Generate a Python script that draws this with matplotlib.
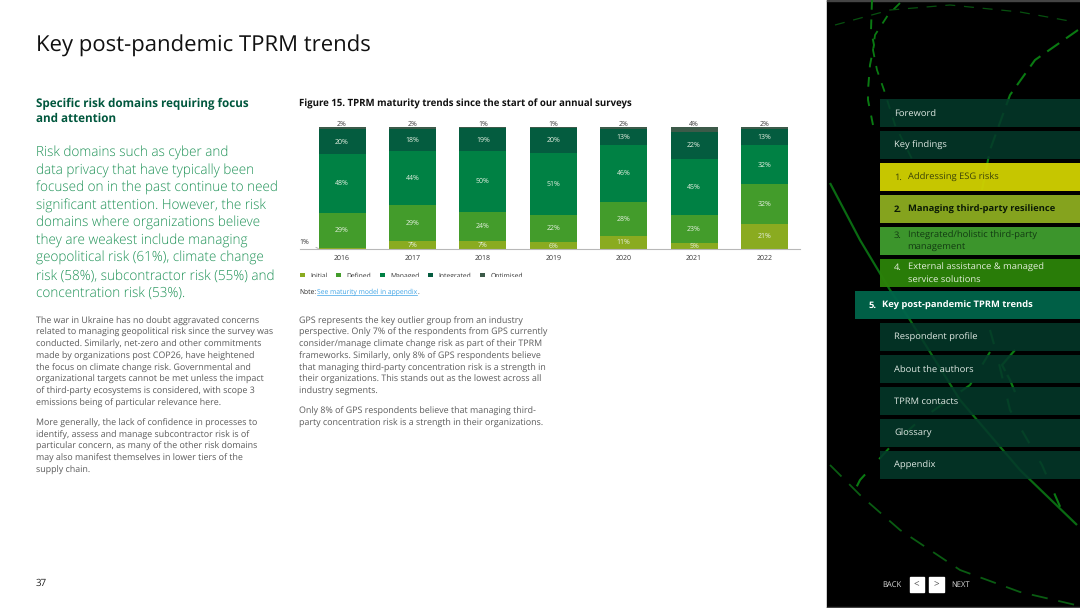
import matplotlib
matplotlib.use("Agg")
import matplotlib.pyplot as plt
from matplotlib.patches import Rectangle

plt.rcParams['font.family'] = ['Open Sans', 'DejaVu Sans']
plt.rcParams['text.hinting'] = 'no_hinting'
plt.rcParams['text.hinting_factor'] = 8

years = ['2016', '2017', '2018', '2019', '2020', '2021', '2022']
series_names = ['Initial', 'Defined', 'Managed', 'Integrated', 'Optimised']
initial = [1, 7, 7, 6, 11, 5, 21]
defined = [29, 29, 24, 22, 28, 23, 32]
managed = [48, 44, 50, 51, 46, 45, 32]
integrated = [20, 18, 19, 20, 13, 22, 13]
optimised = [2, 2, 1, 1, 2, 4, 2]
series_colors = ['#8aab20', '#439c2b', '#008144', '#045c3f', '#3c5a49']

nav_items = [
    ('', 'Foreword', '', '#04392a', '#dfe9e3', 'normal'),
    ('', 'Key findings', '', '#04392a', '#dfe9e3', 'normal'),
    ('1.', 'Addressing ESG risks', '', '#cfcf00', '#3a4208', 'normal'),
    ('2.', 'Managing third-party resilience', '', '#8bab20', '#0b1a05', 'bold'),
    ('3.', 'Integrated/holistic third-party', 'management', '#3f9c2e', '#123a12', 'normal'),
    ('4.', 'External assistance & managed', 'service solutions', '#2b8209', '#e4efdc', 'normal'),
    ('5.', 'Key post-pandemic TPRM trends', '', '#00644a', '#ffffff', 'bold'),
    ('', 'Respondent profile', '', '#04392a', '#dfe9e3', 'normal'),
    ('', 'About the authors', '', '#04392a', '#dfe9e3', 'normal'),
    ('', 'TPRM contacts', '', '#04392a', '#dfe9e3', 'normal'),
    ('', 'Glossary', '', '#04392a', '#dfe9e3', 'normal'),
    ('', 'Appendix', '', '#04392a', '#dfe9e3', 'normal'),
]

intro_lines = [
    'Risk domains such as cyber and',
    'data privacy that have typically been',
    'focused on in the past continue to need',
    'significant attention. However, the risk',
    'domains where organizations believe',
    'they are weakest include managing',
    'geopolitical risk (61%), climate change',
    'risk (58%), subcontractor risk (55%) and',
    'concentration risk (53%).',
]
body_a = [
    'The war in Ukraine has no doubt aggravated concerns',
    'related to managing geopolitical risk since the survey was',
    'conducted. Similarly, net-zero and other commitments',
    'made by organizations post COP26, have heightened',
    'the focus on climate change risk. Governmental and',
    'organizational targets cannot be met unless the impact',
    'of third-party ecosystems is considered, with scope 3',
    'emissions being of particular relevance here.',
]
body_b = [
    'More generally, the lack of confidence in processes to',
    'identify, assess and manage subcontractor risk is of',
    'particular concern, as many of the other risk domains',
    'may also manifest themselves in lower tiers of the',
    'supply chain.',
]
mid_a = [
    'GPS represents the key outlier group from an industry',
    'perspective. Only 7% of the respondents from GPS currently',
    'consider/manage climate change risk as part of their TPRM',
    'frameworks. Similarly, only 8% of GPS respondents believe',
    'that managing third-party concentration risk is a strength in',
    'their organizations. This stands out as the lowest across all',
    'industry segments.',
]
mid_b = [
    'Only 8% of GPS respondents believe that managing third-',
    'party concentration risk is a strength in their organizations.',
]

W, H = 1080, 608
fig = plt.figure(figsize=(W / 100, H / 100), dpi=100, facecolor='white')
bg = fig.add_axes([0, 0, 1, 1])
bg.set_xlim(0, W)
bg.set_ylim(H, 0)
bg.axis('off')

DY = 1.5


def put(x, y, s, size, color='#3a3a3a', weight='normal', ha='left', z=5):
    return bg.text(x, y + DY, s, fontsize=size, color=color, fontweight=weight,
                   ha=ha, va='center', zorder=z)


def block(x, y, lines, step, size, color, weight='normal'):
    for i, line in enumerate(lines):
        put(x, y + i * step, line, size, color, weight)


# Dark side panel and its decorative dashed lines
bg.add_patch(Rectangle((827, 0), 253, H, color='#000000', zorder=1))
bg.add_patch(Rectangle((827, 0), 253, 1, color='#444444', zorder=1))
bg.add_patch(Rectangle((827, 607), 253, 1, color='#444444', zorder=1))

decor = [
    ([872, 871, 874, 870, 868, 868, 873], [0, 30, 45, 65, 90, 100, 125], (5, 5), 1.4, '#0a7a12'),
    ([900, 888, 875, 873, 877, 884, 895, 915], [3, 15, 35, 50, 70, 90, 125, 165], (5, 5), 1.3, '#0a7a12'),
    ([835, 890, 950, 1020, 1075], [25, 10, 5, 12, 22], (8, 7), 0.9, '#07500f'),
    ([1078, 1035, 1010, 990, 982], [30, 60, 95, 150, 190], (7, 4), 1.5, '#0a7a12'),
    ([830, 860, 890, 910, 960, 1020, 1077], [183, 240, 290, 320, 400, 470, 525], None, 1.6, '#0a6a12'),
    ([1015, 1002, 1010, 1015], [350, 365, 380, 392], (12, 2), 1.6, '#0a7a12'),
    ([990, 970, 920, 892, 860, 855], [352, 385, 420, 445, 480, 490], (7, 10), 1.5, '#0a7a12'),
    ([990, 997, 1010, 1042, 1068], [330, 355, 410, 465, 525], (7, 10), 1.5, '#0a7a12'),
    ([830, 860, 900, 960, 1020, 1080], [465, 495, 530, 570, 592, 606], (9, 6), 1.3, '#0a5c12'),
]
for xs, ys, dash, lw, col in decor:
    ln, = bg.plot(xs, ys, color=col, lw=lw, zorder=2, solid_capstyle='butt')
    if dash is not None:
        ln.set_linestyle((0, dash))

# Navigation
for i, (num, label, second, col, tcol, wt) in enumerate(nav_items):
    top = 99 + i * 32
    x0 = 855 if num == '5.' else 880
    alpha = 0.88 if col == '#04392a' else 0.96
    bg.add_patch(Rectangle((x0, top), W - x0, 28, color=col, alpha=alpha, zorder=3, lw=0))
    tx = x0 + 14
    cy = top + 12.7
    size = 6.75
    if second:
        put(tx, cy - 6, num, size, tcol, wt)
        put(tx + 13.5, cy - 6, label, size, tcol, wt)
        put(tx + 13.5, cy + 6, second, size, tcol, wt)
    elif num:
        put(tx, cy, num, size, tcol, wt)
        put(tx + 13.5, cy, label, size, tcol, wt)
    else:
        put(tx, cy, label, size, tcol, wt)

# Back / next controls
put(882, 583, 'BACK', 5.5, '#d8d8d8')
put(951, 583, 'NEXT', 5.5, '#d8d8d8')
bg.add_patch(Rectangle((909.5, 577), 14.5, 14.5, color='white', zorder=3))
bg.add_patch(Rectangle((929, 577), 14.5, 14.5, color='white', zorder=3))
put(916.8, 582.5, '<', 7, '#555555', ha='center')
put(936.2, 582.5, '>', 7, '#555555', ha='center')

# Page text
put(36, 44.5, 'Key post-pandemic TPRM trends', 15.9, '#111111')
put(36, 102.5, 'Specific risk domains requiring focus', 8.39, '#00573d', 'bold')
put(36, 117.5, 'and attention', 8.39, '#00573d', 'bold')
intro_y = 151.7 + DY
for i, line in enumerate(intro_lines):
    bg.text(36, intro_y + i * 17.5, line, fontsize=9.76, color='#1c9155', fontweight=300,
            ha='left', va='center', zorder=5)
block(36, 319.5, body_a, 11.8, 6.38, '#5a5a5a')
block(36, 421.8, body_b, 11.8, 6.38, '#5a5a5a')
block(299, 319.5, mid_a, 11.8, 6.38, '#5a5a5a')
block(299, 410.2, mid_b, 11.8, 6.38, '#5a5a5a')
put(36, 582, '37', 7, '#222222')
put(299, 102, 'Figure 15. TPRM maturity trends since the start of our annual surveys', 6.91, '#111111', 'bold')

# Chart
left, right, top_y, base_y = 300, 800, 127, 249.3
ax = fig.add_axes([left / W, 1 - base_y / H, (right - left) / W, (base_y - top_y) / H], zorder=4)
ax.patch.set_alpha(0)
ax.set_xlim(-0.597, 6.505)
ax.set_ylim(0, 100)
xpos = list(range(len(years)))
all_series = [initial, defined, managed, integrated, optimised]
bottom = [0] * len(years)
for name, vals, col in zip(series_names, all_series, series_colors):
    totals = [sum(s[j] for s in all_series) for j in xpos]
    heights = [v * 100 / t for v, t in zip(vals, totals)]
    ax.bar(xpos, heights, bottom=bottom, width=0.667, color=col, label=name, lw=0)
    for j in xpos:
        if name == 'Optimised':
            ax.annotate(f'{vals[j]}%', (j, 100), xytext=(0, 2.4), textcoords='offset points',
                        ha='center', va='center', fontsize=5, color='#333333', annotation_clip=False)
        elif vals[j] > 1:
            ax.text(j, bottom[j] + heights[j] / 2, f'{vals[j]}%', ha='center', va='center',
                    fontsize=5, color='#e9f2e4')
    bottom = [b + h for b, h in zip(bottom, heights)]

ax.annotate(f'{initial[0]}%', xy=(0 - 0.335, 0.6), xytext=(304.5, 242), textcoords=bg.transData,
            ha='center', va='center', fontsize=5, color='#333333', annotation_clip=False,
            arrowprops=dict(arrowstyle='-', color='#b5b5b5', lw=0.7, shrinkA=3, shrinkB=0))
for side in ('top', 'left', 'right'):
    ax.spines[side].set_visible(False)
ax.spines['bottom'].set_color('#b8b8b8')
ax.spines['bottom'].set_linewidth(0.8)
ax.set_yticks([])
ax.set_xticks(xpos, years)
ax.tick_params(axis='x', length=0, labelsize=5, labelcolor='#333333', pad=4)
leg = ax.legend(frameon=False, ncol=5, loc='upper left', bbox_to_anchor=(299.5 / W, 1 - 272.5 / H),
                bbox_transform=fig.transFigure, fontsize=4.9, handlelength=0.8, handleheight=0.8,
                handletextpad=0.75, columnspacing=1.25, borderpad=0, borderaxespad=0, labelcolor='#333333')

# The legend labels are cut off along their lower edge in the reference
ax.add_patch(Rectangle((295 / W, 1 - 284 / H), 230 / W, 7 / H, transform=fig.transFigure,
                       facecolor='white', lw=0, zorder=10, clip_on=False))

# Note with link
put(299, 291, 'Note:', 4.85, '#222222', z=12)
put(317, 291, 'See maturity model in appendix', 4.85, '#3fa4e6', z=12)
bg.plot([317, 417], [295, 295], color='#3fa4e6', lw=0.5, zorder=5)
put(417, 291, '.', 4.85, '#222222')

fig.savefig('out.png', dpi=100, facecolor='white')
